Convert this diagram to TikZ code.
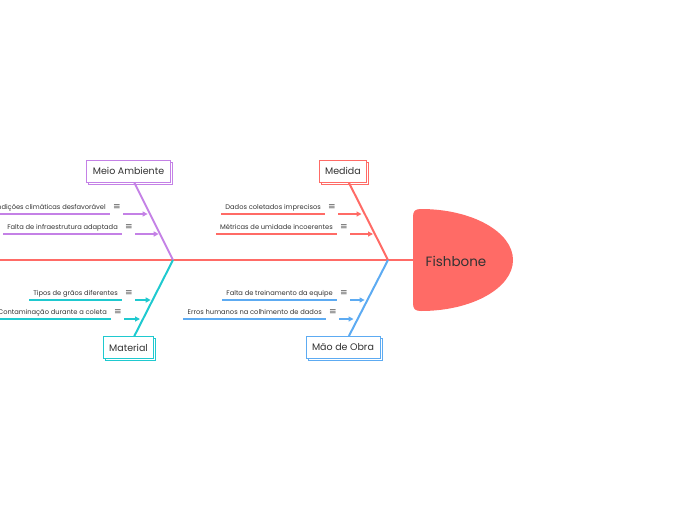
\documentclass[tikz,border=0pt]{standalone}
\usepackage{fontspec}
\setmainfont{Poppins}
\newfontfamily\iconfont{DejaVu Sans}
\usetikzlibrary{shadows,arrows.meta}
\definecolor{fishred}{HTML}{FF6B66}
\definecolor{envviolet}{HTML}{C481E6}
\definecolor{matteal}{HTML}{1FC9CF}
\definecolor{crewblue}{HTML}{5DABF2}
\definecolor{textgray}{HTML}{333333}
\definecolor{icongray}{HTML}{555555}
\begin{document}
\begin{tikzpicture}
[x=1pt,y=-1pt,
  catbox/.style={draw=#1,fill=white,line width=0.9pt,text=textgray,
    font=\fontsize{9.5}{11}\selectfont,minimum height=22pt,inner xsep=6pt,
    copy shadow={shadow xshift=2pt,shadow yshift=-2pt,draw=#1,fill=white}},
  bone/.style={draw=#1,line width=2pt},
  causetext/.style={anchor=south east,inner xsep=4pt,inner ysep=3pt,
    text height=5pt,text depth=1.5pt,text=textgray,
    font=\fontsize{6.7}{8}\selectfont},
  underline/.style={draw=#1,line width=1.2pt},
  feed/.style={draw=#1,line width=1.2pt,-{Triangle[length=5pt,width=5pt]}},
  menuicon/.style={text=icongray,font=\iconfont\fontsize{9}{10}\selectfont,inner sep=0pt}]
\clip (0,0) rectangle (697,520);
%% head and spine
\fill[fishred] (413,303) -- (413,217) .. controls (413,211) and (415,209) .. (421,209)
  .. controls (472,209) and (513,232) .. (513,260)
  .. controls (513,288) and (472,311) .. (421,311)
  .. controls (415,311) and (413,309) .. (413,303) -- cycle;
\node (head) at (456,261) [text=textgray,font=\fontsize{13.5}{15}\selectfont] {Fishbone};
\coordinate (tail) at (0,260);
\coordinate (neck) at (413,260);
\coordinate (jointL) at (173,260);
\coordinate (jointR) at (388,260);
\draw[bone=fishred] (tail) -- (neck);
%% categories
\foreach \nodename/\col/\x/\y/\joint/\txt in {meio/envviolet/128.5/171/jointL/Meio Ambiente,
  medida/fishred/343/171/jointR/Medida, material/matteal/128.5/347.5/jointL/Material,
  obra/crewblue/343/347.5/jointR/Mão de Obra}
{
  \node (\nodename) at (\x,\y) [catbox=\col] {\txt};
  \draw[bone=\col] (\nodename) -- (\joint);
}
%% causes
\foreach \nodename/\col/\ux/\uy/\bx/\txt in {
  c1/envviolet/110/214/147.6/Condições climáticas desfavorável,
  c2/envviolet/122/234/158.7/Falta de infraestrutura adaptada,
  c3/matteal/122/300/150.7/Tipos de grãos diferentes,
  c4/matteal/111/319/140/Contaminação durante a coleta,
  c5/fishred/325/214/361.5/Dados coletados imprecisos,
  c6/fishred/337/234/373/Métricas de umidade incoerentes,
  c7/crewblue/337/300/364.6/Falta de treinamento da equipe,
  c8/crewblue/326/319/353.5/Erros humanos na colhimento de dados}
{
  \node (\nodename) at (\ux,\uy) [causetext] {\txt};
  \draw[underline=\col] (\nodename.south west) -- (\nodename.south east);
  \node (\nodename-i) at ([xshift=7pt]\nodename.east) [menuicon] {≡};
  \coordinate (\nodename-s) at ([xshift=13pt]\nodename.south east);
  \coordinate (\nodename-b) at (\bx,\uy);
  \draw[feed=\col] (\nodename-s) -- (\nodename-b);
}
\end{tikzpicture}
\end{document}
